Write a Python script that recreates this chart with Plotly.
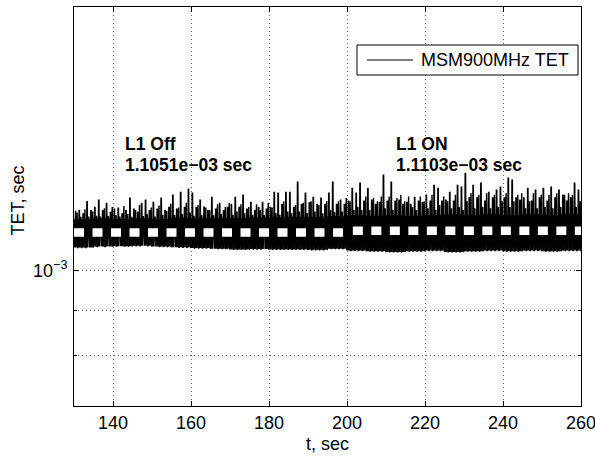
import plotly.graph_objects as go

# ---- data (values in ms, converted to seconds below) ----
sec_start = list(range(130, 260))  # one entry per second

peak_ms = [1.170, 1.171, 1.160, 1.198, 1.170, 1.180, 1.203, 1.170, 1.193, 1.165,
           1.175, 1.178, 1.160, 1.170, 1.209, 1.175, 1.165, 1.193, 1.203, 1.170,
           1.196, 1.175, 1.209, 1.170, 1.180, 1.219, 1.175, 1.228, 1.180, 1.238,
           1.225, 1.180, 1.203, 1.181, 1.170, 1.212, 1.175, 1.193, 1.170, 1.180,
           1.190, 1.212, 1.180, 1.219, 1.175, 1.196, 1.170, 1.180, 1.196, 1.175,
           1.180, 1.228, 1.225, 1.190, 1.228, 1.228, 1.180, 1.261, 1.190, 1.225,
           1.195, 1.212, 1.190, 1.209, 1.190, 1.225, 1.261, 1.190, 1.203, 1.190,
           1.200, 1.241, 1.225, 1.258, 1.200, 1.241, 1.203, 1.190, 1.196, 1.285,
           1.200, 1.261, 1.200, 1.203, 1.190, 1.196, 1.190, 1.212, 1.200, 1.195,
           1.219, 1.200, 1.251, 1.241, 1.200, 1.203, 1.228, 1.200, 1.251, 1.245,
           1.291, 1.210, 1.251, 1.210, 1.258, 1.200, 1.228, 1.210, 1.235, 1.245,
           1.210, 1.275, 1.268, 1.210, 1.203, 1.210, 1.241, 1.200, 1.235, 1.210,
           1.241, 1.200, 1.245, 1.210, 1.235, 1.219, 1.200, 1.210, 1.258, 1.235]

peak2_ms = [1.165, 1.152, 1.175, 1.150, 1.168, 1.155, 1.150, 1.178, 1.152, 1.182,
            1.156, 1.150, 1.185, 1.160, 1.152, 1.172, 1.188, 1.152, 1.160, 1.180,
            1.150, 1.186, 1.158, 1.170, 1.192, 1.155, 1.180, 1.160, 1.195, 1.165,
            1.155, 1.188, 1.158, 1.180, 1.172, 1.155, 1.190, 1.160, 1.182, 1.195,
            1.158, 1.168, 1.190, 1.162, 1.182, 1.158, 1.190, 1.172, 1.155, 1.195,
            1.180, 1.162, 1.158, 1.200, 1.168, 1.162, 1.188, 1.168, 1.195, 1.162,
            1.200, 1.168, 1.188, 1.162, 1.200, 1.172, 1.166, 1.200, 1.168, 1.210,
            1.200, 1.172, 1.182, 1.172, 1.215, 1.172, 1.210, 1.200, 1.215, 1.178,
            1.215, 1.172, 1.210, 1.220, 1.200, 1.215, 1.182, 1.172, 1.215, 1.200,
            1.178, 1.220, 1.172, 1.188, 1.215, 1.200, 1.178, 1.220, 1.182, 1.172,
            1.200, 1.225, 1.178, 1.220, 1.182, 1.225, 1.178, 1.220, 1.182, 1.200,
            1.225, 1.182, 1.200, 1.220, 1.225, 1.178, 1.200, 1.225, 1.178, 1.220,
            1.182, 1.220, 1.178, 1.225, 1.182, 1.220, 1.225, 1.220, 1.182, 1.200]

block_start = list(range(130, 260, 5))  # 5-second blocks
body_hi_ms = [1.145, 1.147, 1.145, 1.148, 1.145, 1.149, 1.147, 1.149, 1.148, 1.150,
              1.150, 1.152, 1.151, 1.153, 1.156, 1.155, 1.157, 1.155, 1.157, 1.159,
              1.157, 1.159, 1.157, 1.159, 1.157, 1.159]
low_ms = [1.062, 1.065, 1.066, 1.067, 1.065, 1.063, 1.061, 1.059, 1.057, 1.058,
          1.057, 1.057, 1.056, 1.059, 1.054, 1.052, 1.050, 1.052, 1.054, 1.050,
          1.052, 1.054, 1.052, 1.054, 1.052, 1.054]

mean_off = 1.1051e-3
mean_on = 1.1103e-3
off_span = [130, 199]
on_span = [201.5, 260]

x_ticks = [140, 160, 180, 200, 220, 240, 260]
y_major = [1e-3]
y_major_labels = ["10<sup>\u22123</sup>"]
y_minor = [8e-4, 9e-4]
legend_label = "MSM900MHz TET"

# ---- build the dense trace from the envelopes ----
# each second: low/body oscillation with two spikes (flat 2-sample tops)
xs, ys = [], []
for i, t in enumerate(sec_start):
    b = (t - block_start[0]) // 5
    lo = low_ms[b] * 1e-3
    hi = body_hi_ms[b] * 1e-3
    p1 = peak_ms[i] * 1e-3
    p2 = peak2_ms[i] * 1e-3
    seq = [lo, hi, lo, p1, p1, lo, hi, p2, p2, lo]
    for k, v in enumerate(seq):
        xs.append(t + k / 10)
        ys.append(v)
xs.append(260)
ys.append(low_ms[-1] * 1e-3)

font_family = "Liberation Sans, Arial, Helvetica, sans-serif"

fig = go.Figure()
fig.add_trace(go.Scatter(x=xs, y=ys, mode="lines", name=legend_label,
                         showlegend=False, line=dict(color="black", width=1.4)))
for span, m in ((off_span, mean_off), (on_span, mean_on)):
    fig.add_trace(go.Scatter(x=span, y=[m, m], mode="lines", showlegend=False,
                             line=dict(color="white", width=8.5, dash="10px,8.5px")))

def txt(x, y, s, xref="x", yref="paper", size=17.5, **kw):
    fig.add_annotation(x=x, y=y, xref=xref, yref=yref, text=s, showarrow=False,
                       font=dict(size=size, color="black", family=font_family), **kw)

txt(142.5, 0.6566, "<b>L1 Off</b>", xanchor="left", yanchor="middle")
txt(142.5, 0.6040, "<b>1.1051e\u221203 sec</b>", xanchor="left", yanchor="middle")
txt(212, 0.6566, "<b>L1 ON</b>", xanchor="left", yanchor="middle")
txt(212, 0.6040, "<b>1.1103e\u221203 sec</b>", xanchor="left", yanchor="middle")

# axis titles
txt(0.5, -0.0960, "t, sec", xref="paper", size=18, xanchor="center", yanchor="middle")
txt(-0.1095, 0.516, "TET, sec", xref="paper", size=18, xanchor="center",
    yanchor="middle", textangle=-90)

# legend box (drawn in paper coordinates)
fig.add_shape(type="rect", xref="paper", yref="paper",
              x0=(357 - 74) / 507, x1=(578 - 74) / 507,
              y0=(406 - 75) / 399, y1=(406 - 45) / 399,
              line=dict(color="black", width=1), fillcolor="white", layer="above")
fig.add_shape(type="line", xref="paper", yref="paper",
              x0=(367 - 74) / 507, x1=(413 - 74) / 507,
              y0=(406 - 60) / 399, y1=(406 - 60) / 399,
              line=dict(color="black", width=1), layer="above")
txt((419 - 74) / 507, (406 - 60) / 399, legend_label, xref="paper", size=18,
    xanchor="left", yanchor="middle")

fig.update_layout(
    width=595, height=458,
    margin=dict(l=74, r=14, t=7, b=52),
    paper_bgcolor="white", plot_bgcolor="white",
    font=dict(family=font_family, size=18, color="black"),
    showlegend=False,
    xaxis=dict(range=[130, 260], tickvals=x_ticks, ticks="inside", ticklen=5,
               tickcolor="black", showline=True, linecolor="black", linewidth=1,
               mirror="ticks", showgrid=True, gridcolor="#666",
               griddash="1px,3px", gridwidth=1, zeroline=False,
               automargin=False, ticklabeloverflow="allow", ticklabelstandoff=0),
    yaxis=dict(type="log", range=[-3.1549, -2.69897],
               tickvals=y_major, ticktext=y_major_labels,
               ticks="inside", ticklen=5, tickcolor="black",
               showline=True, linecolor="black", linewidth=1, mirror="ticks",
               showgrid=True, gridcolor="#666", griddash="1px,3px", gridwidth=1,
               minor=dict(tickmode="array", tickvals=y_minor, showgrid=True,
                          gridcolor="#666", griddash="1px,3px", gridwidth=1,
                          ticks="inside", ticklen=3, tickcolor="black"),
               zeroline=False, automargin=False, ticklabelstandoff=2),
)

fig.write_html("out.html", config={"displayModeBar": False},
               post_script="document.body.style.margin='0px';document.body.style.padding='0px';")
